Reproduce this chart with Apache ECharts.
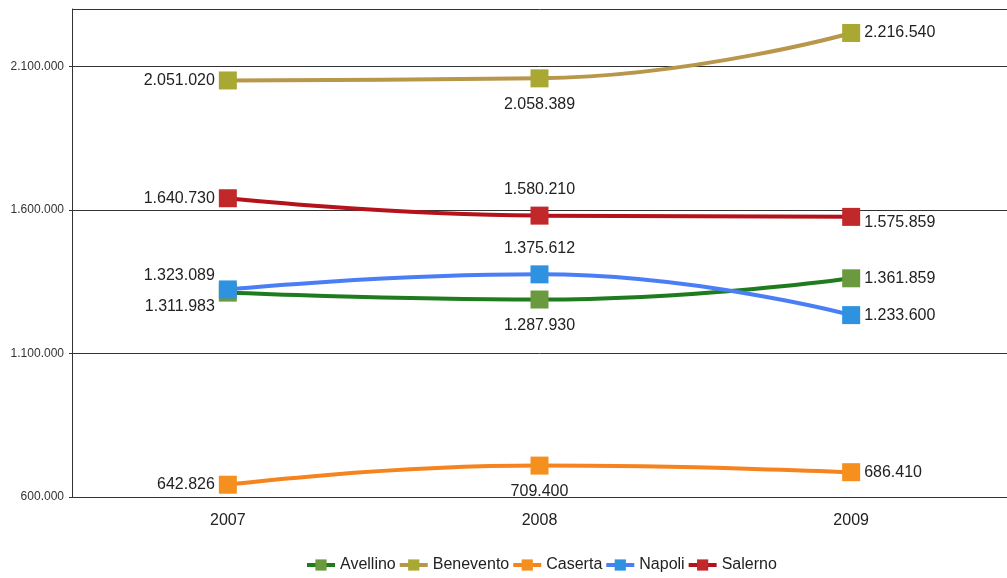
<!DOCTYPE html>
<html><head><meta charset="utf-8">
<script src="https://cdn.jsdelivr.net/npm/echarts@6/dist/echarts.min.js"></script>
<style>html,body{margin:0;padding:0;background:#fff}#c{width:1007px;height:578px}</style>
</head><body><div id="c"></div>
<script>
var years = ['2007', '2008', '2009'];
var avellino = [1311983, 1287930, 1361859];
var benevento = [2051020, 2058389, 2216540];
var caserta = [642826, 709400, 686410];
var napoli = [1323089, 1375612, 1233600];
var salerno = [1640730, 1580210, 1575859];
var yMin = 600000, yMax = 2300000, yStep = 500000;

function fmt(v){ return String(v).replace(/\B(?=(\d{3})+(?!\d))/g, '.'); }

function mk(name, vals, lineColor, markColor, pos){
  return {
    name: name, type: 'line', smooth: true,
    symbol: 'rect', symbolSize: 18,
    lineStyle: {color: lineColor, width: 4},
    itemStyle: {color: markColor},
    color: lineColor,
    data: vals.map(function(v, i){
      var p = pos[i];
      var d = (p[0] === 'top' || p[0] === 'bottom') ? 9 : 4;
      return {value: v, label: {position: p[0], distance: d, offset: p[1] || [0,0]}};
    }),
    label: {show: true, color: '#222', fontSize: 16, fontFamily: 'Liberation Sans, Arial',
      formatter: function(p){ return fmt(p.value); }},
    emphasis: {disabled: true}
  };
}

var chart = echarts.init(document.getElementById('c'));
chart.setOption({
  animation: false,
  backgroundColor: '#fff',
  grid: {left: 72, right: 0, top: 9, bottom: 81},
  legend: {bottom: 0, left: 300, itemGap: 2, itemWidth: 28, itemHeight: 14,
    lineStyle: {width: 4},
    textStyle: {fontSize: 16, color: '#222', fontFamily: 'Liberation Sans, Arial'},
    data: ['Avellino','Benevento','Caserta','Napoli','Salerno']},
  xAxis: {type: 'category', data: years, boundaryGap: true,
    axisLine: {lineStyle: {color: '#333'}}, axisTick: {show: false},
    axisLabel: {fontSize: 16, color: '#222', margin: 16, fontFamily: 'Liberation Sans, Arial'}},
  yAxis: {type: 'value', min: yMin, max: yMax, interval: yStep,
    axisLine: {show: true, lineStyle: {color: '#333'}},
    axisTick: {show: true, length: 3, lineStyle: {color: '#333'}},
    axisLabel: {fontSize: 12, color: '#333', margin: 8, showMaxLabel: false,
      fontFamily: 'Liberation Sans, Arial', formatter: function(v){ return fmt(v); }},
    splitLine: {show: true, lineStyle: {color: '#333', width: 1}}},
  series: [
    mk('Avellino', avellino, '#1e7b1e', '#6b9a3e', [['left',[0,14]],['bottom'],['right']]),
    mk('Benevento', benevento, '#b8964a', '#a8a832', [['left'],['bottom'],['right']]),
    mk('Caserta', caserta, '#f5841f', '#f5901f', [['left'],['bottom'],['right']]),
    mk('Napoli', napoli, '#4a7ef5', '#2e92e0', [['left',[0,-14]],['top'],['right']]),
    mk('Salerno', salerno, '#b5121b', '#c0282a', [['left'],['top'],['right',[0,6]]])
  ]
});
</script></body></html>
